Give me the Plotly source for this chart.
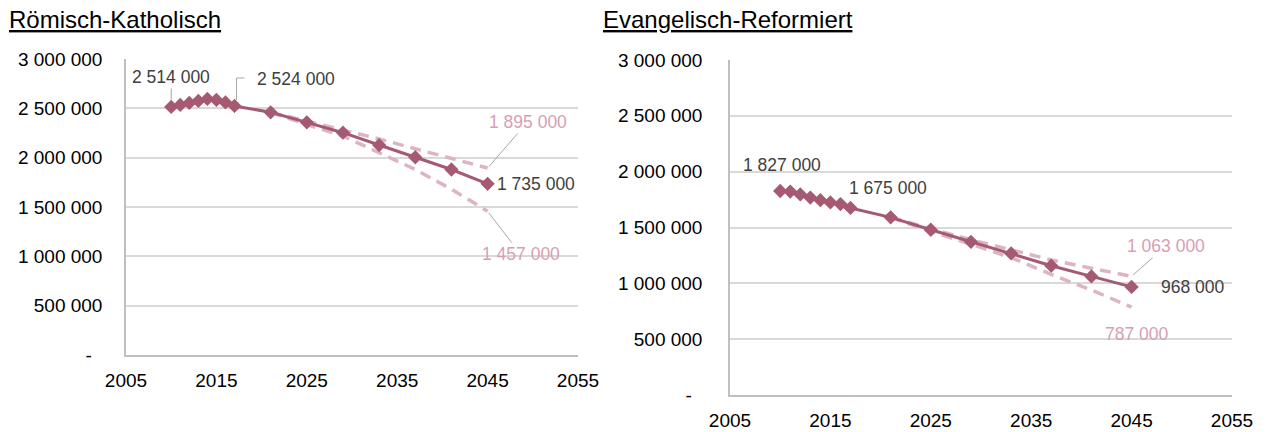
import plotly.graph_objects as go

# ---------------- data ----------------
years_main = [2010, 2011, 2012, 2013, 2014, 2015, 2016, 2017, 2021, 2025, 2029, 2033, 2037, 2041, 2045]
years_scen = [2021, 2025, 2029, 2033, 2037, 2041, 2045]

rk_main = [2514000, 2535000, 2555000, 2575000, 2595000, 2585000, 2560000, 2524000,
           2460000, 2358000, 2253000, 2128000, 2004000, 1880000, 1735000]
rk_high = [2460000, 2370000, 2275000, 2190000, 2090000, 1995000, 1895000]
rk_low = [2460000, 2335000, 2220000, 2050000, 1880000, 1680000, 1457000]

re_main = [1827000, 1822000, 1796000, 1768000, 1745000, 1725000, 1710000, 1675000,
           1591000, 1480000, 1372000, 1268000, 1158000, 1062000, 968000]
re_high = [1591000, 1490000, 1390000, 1300000, 1210000, 1135000, 1063000]
re_low = [1591000, 1465000, 1350000, 1230000, 1080000, 940000, 787000]

titles = ["Römisch-Katholisch", "Evangelisch-Reformiert"]
x_ticks = [2005, 2015, 2025, 2035, 2045, 2055]
y_ticks = [0, 500000, 1000000, 1500000, 2000000, 2500000, 3000000]
y_ticktext = ["-\u00a0\u00a0", "500 000", "1 000 000", "1 500 000", "2 000 000", "2 500 000", "3 000 000"]

# ---------------- style ----------------
FONT = "Liberation Sans, Arial, sans-serif"
MAIN = "#A55A72"
DASH = "#DDB4C2"
PINK_TXT = "#D6A0B4"
DARK_TXT = "#404040"
LEADER = "#A6A6A6"
W, H = 1275, 432


def fmt(v):
    return f"{v:,}".replace(",", " ")


fig = go.Figure()

for (main, high, low, xa, ya) in [(rk_main, rk_high, rk_low, "x", "y"),
                                  (re_main, re_high, re_low, "x2", "y2")]:
    for scen in (high, low):
        fig.add_trace(go.Scatter(x=years_scen, y=scen, mode="lines", xaxis=xa, yaxis=ya,
                                 line=dict(color=DASH, width=3.5, dash="11px,7px"),
                                 hoverinfo="skip"))
    fig.add_trace(go.Scatter(x=years_main, y=main, mode="lines+markers", xaxis=xa, yaxis=ya,
                             line=dict(color=MAIN, width=3),
                             marker=dict(symbol="diamond", size=11, color=MAIN)))

axis_common = dict(showgrid=False, zeroline=False, showline=True, linecolor="#BFBFBF",
                   linewidth=1.5, ticks="", automargin=False,
                   tickfont=dict(family=FONT, size=19, color="#000000"))
grid = dict(showgrid=True, gridcolor="#D9D9D9", gridwidth=1.5)

left_x = [126 / W, 578 / W]
right_x = [730 / W, 1232 / W]
left_y = [1 - 355 / H, 1 - 59 / H]
right_y = [1 - 395 / H, 1 - 60 / H]

fig.update_layout(
    template="none",
    width=W, height=H,
    margin=dict(l=0, r=0, t=0, b=0, autoexpand=False),
    paper_bgcolor="white", plot_bgcolor="white",
    showlegend=False,
    font=dict(family=FONT),
    xaxis=dict(domain=left_x, range=[2005, 2055], tickvals=x_ticks, anchor="y",
               ticklabelstandoff=7, **axis_common),
    yaxis=dict(domain=left_y, range=[0, 3000000], tickvals=y_ticks, ticktext=y_ticktext,
               anchor="x", ticklabelstandoff=18, **{**axis_common, **grid}),
    xaxis2=dict(domain=right_x, range=[2005, 2055], tickvals=x_ticks, anchor="y2",
                ticklabelstandoff=7, **axis_common),
    yaxis2=dict(domain=right_y, range=[0, 3000000], tickvals=y_ticks, ticktext=y_ticktext,
                anchor="x2", ticklabelstandoff=22, **{**axis_common, **grid}),
)

anns = []
# titles
for t, px in zip(titles, [7, 601]):
    anns.append(dict(text=f"<u>{t}</u>", xref="paper", yref="paper", x=px / W, y=1 - 19 / H,
                     xanchor="left", yanchor="middle", showarrow=False,
                     font=dict(family=FONT, size=24, color="#000000")))

lab_font = dict(family=FONT, size=17.5, color=DARK_TXT)
pink_font = dict(family=FONT, size=17.5, color=PINK_TXT)

# left chart labels
anns += [
    dict(x=years_main[0], y=rk_main[0], xref="x", yref="y", text=fmt(rk_main[0]), font=lab_font,
         showarrow=True, ax=0, ay=-30, arrowhead=0, arrowwidth=1, arrowcolor=LEADER, standoff=7),
    dict(x=years_main[7], y=rk_main[7], xref="x", yref="y", text=fmt(rk_main[7]), font=lab_font,
         showarrow=False, xshift=62, yshift=27),
    dict(x=years_scen[-1], y=rk_high[-1], xref="x", yref="y", text=fmt(rk_high[-1]), font=pink_font,
         showarrow=True, ax=40, ay=-46, arrowhead=0, arrowwidth=1, arrowcolor=LEADER, standoff=2),
    dict(x=years_main[-1], y=rk_main[-1], xref="x", yref="y", text=fmt(rk_main[-1]), font=lab_font,
         showarrow=False, xshift=48, yshift=0),
    dict(x=years_scen[-1], y=rk_low[-1], xref="x", yref="y", text=fmt(rk_low[-1]), font=pink_font,
         showarrow=True, ax=33, ay=43, arrowhead=0, arrowwidth=1, arrowcolor=LEADER, standoff=2),
]
# right chart labels
anns += [
    dict(x=years_main[0], y=re_main[0], xref="x2", yref="y2", text=fmt(re_main[0]), font=lab_font,
         showarrow=False, xshift=2, yshift=26),
    dict(x=years_main[7], y=re_main[7], xref="x2", yref="y2", text=fmt(re_main[7]), font=lab_font,
         showarrow=False, xshift=38, yshift=20),
    dict(x=years_scen[-1], y=re_high[-1], xref="x2", yref="y2", text=fmt(re_high[-1]), font=pink_font,
         showarrow=True, ax=34, ay=-30, arrowhead=0, arrowwidth=1, arrowcolor=LEADER, standoff=2),
    dict(x=years_main[-1], y=re_main[-1], xref="x2", yref="y2", text=fmt(re_main[-1]), font=lab_font,
         showarrow=False, xshift=61, yshift=0),
    dict(x=years_scen[-1], y=re_low[-1], xref="x2", yref="y2", text=fmt(re_low[-1]), font=pink_font,
         showarrow=False, xshift=5, yshift=-27),
]
fig.update_layout(annotations=anns)

# elbow leader for the 2017 label (left chart)
fig.add_shape(type="path", xref="x", yref="y", xsizemode="pixel", ysizemode="pixel",
              xanchor=years_main[7], yanchor=rk_main[7], path="M 10,28 L 2,28 L 2,6",
              line=dict(color=LEADER, width=1))

fig.write_html("out.html", config={"displayModeBar": False},
               post_script="document.body.style.margin='0';document.body.style.overflow='hidden';")
